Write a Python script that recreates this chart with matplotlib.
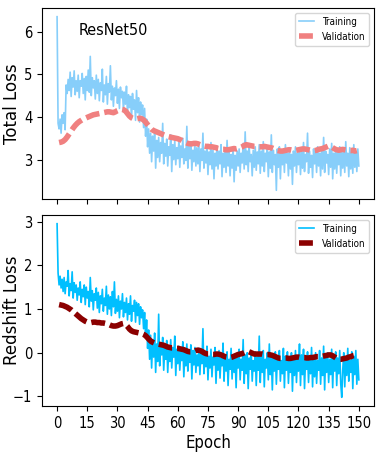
import numpy as np
import matplotlib
matplotlib.use('Agg')
import matplotlib.pyplot as plt

plt.rcParams.update({'font.size': 10})
plt.rcParams['font.family'] = ['DejaVu Sans']
plt.rcParams['font.stretch'] = 'condensed'

# training losses, two samples per epoch (epoch 0 .. 150)
total_train = [
    6.35, 3.85, 3.72, 3.95, 3.62, 4.05, 3.85, 4.10, 3.70, 4.75, 4.55, 4.88, 4.62, 5.05, 4.48, 4.92, 4.70, 5.08, 4.52, 4.85,
    4.60, 4.98, 4.45, 4.85, 4.72, 5.02, 4.55, 4.90, 4.40, 4.95, 4.62, 5.10, 4.58, 5.42, 4.50, 4.92, 4.68, 4.85, 4.42, 4.98,
    4.55, 4.88, 4.38, 4.80, 4.62, 5.12, 4.35, 4.75, 4.52, 4.95, 4.30, 4.78, 4.58, 5.20, 4.40, 4.72, 4.25, 4.68, 4.50, 4.85,
    4.32, 4.65, 4.20, 4.70, 4.45, 4.60, 4.15, 4.58, 4.30, 4.72, 4.05, 4.52, 4.22, 4.48, 3.95, 4.55, 4.18, 4.40, 3.92, 4.62,
    4.10, 4.45, 3.88, 4.35, 4.05, 4.28, 3.75, 4.20, 3.55, 3.95, 3.30, 3.72, 3.15, 3.62, 2.95, 3.55, 3.20, 3.68, 2.80, 3.45,
    3.05, 3.52, 2.95, 3.40, 3.15, 3.85, 2.90, 3.38, 3.08, 3.48, 2.85, 3.30, 3.10, 3.58, 2.72, 3.35, 3.00, 3.45, 2.88, 3.28,
    3.02, 3.40, 2.82, 3.32, 3.05, 3.50, 2.90, 3.25, 2.98, 3.78, 2.80, 3.30, 3.02, 3.42, 2.75, 3.22, 2.95, 3.35, 2.85, 3.28,
    2.90, 3.35, 2.72, 3.25, 2.98, 3.62, 2.80, 3.20, 2.92, 3.30, 2.65, 3.18, 2.88, 3.40, 2.78, 3.22, 2.55, 3.15, 2.85, 3.32,
    2.78, 3.20, 2.90, 3.35, 2.60, 3.15, 2.82, 3.25, 2.70, 3.45, 2.85, 3.18, 2.62, 3.12, 2.80, 3.28, 2.48, 3.10, 2.75, 3.20,
    2.85, 3.25, 2.70, 3.15, 2.92, 3.38, 2.78, 3.65, 2.88, 3.20, 2.72, 3.28, 2.95, 3.12, 2.62, 3.22, 2.82, 3.30, 2.75, 3.18,
    2.90, 3.35, 2.68, 3.20, 2.85, 3.42, 2.72, 3.15, 2.95, 3.28, 2.60, 3.18, 2.80, 3.58, 2.70, 3.22, 2.88, 3.12, 2.28, 3.25,
    2.82, 3.30, 2.55, 3.18, 2.88, 3.22, 2.70, 3.35, 2.92, 3.15, 2.62, 3.28, 2.78, 3.12, 2.42, 3.20, 2.85, 3.30, 2.70, 3.15,
    2.88, 3.25, 2.65, 3.18, 2.80, 3.40, 2.72, 3.12, 2.95, 3.62, 2.68, 3.20, 2.82, 3.10, 2.58, 3.25, 2.90, 3.18, 2.70, 3.30,
    2.85, 3.15, 2.62, 3.28, 2.78, 3.52, 2.70, 3.20, 2.92, 3.12, 2.65, 3.25, 2.82, 3.38, 2.55, 3.15, 2.78, 3.28, 2.68, 3.20,
    2.88, 3.30, 2.62, 3.18, 2.80, 3.25, 2.70, 3.42, 2.85, 3.15, 2.60, 3.28, 2.78, 3.20, 2.68, 3.35, 2.82, 3.18, 2.72, 3.25,
    2.85,
]

redshift_train = [
    2.95, 1.82, 1.55, 1.75, 1.48, 1.68, 1.40, 1.72, 1.35, 1.62, 1.52, 1.88, 1.30, 1.58, 1.42, 1.85, 1.25, 1.60, 1.38, 1.55,
    1.20, 1.48, 1.32, 1.62, 1.15, 1.45, 1.28, 1.55, 1.10, 1.50, 1.25, 1.40, 1.05, 1.72, 1.18, 1.42, 0.98, 1.35, 1.20, 1.48,
    1.02, 1.38, 0.92, 1.30, 1.12, 1.45, 0.95, 1.25, 1.08, 1.52, 0.88, 1.32, 1.00, 1.28, 0.85, 1.40, 1.05, 1.62, 0.90, 1.22,
    0.95, 1.30, 0.80, 1.18, 1.00, 1.35, 0.82, 1.15, 0.92, 1.25, 0.75, 1.12, 0.88, 1.30, 0.72, 1.08, 0.95, 1.20, 0.70, 1.15,
    0.85, 1.12, 0.65, 1.05, 0.80, 0.98, 0.55, 0.92, 0.35, 0.75, 0.10, 0.52, -0.15, 0.40, -0.35, 0.30, -0.10, 0.45, -0.45, 0.20,
    -0.20, 0.88, -0.30, 0.15, -0.05, 0.35, -0.40, 0.10, -0.15, 0.28, -0.45, 0.05, -0.20, 0.30, -0.35, 0.12, -0.10, 0.38, -0.52, 0.08,
    -0.25, 0.15, -0.40, 0.05, -0.18, 0.25, -0.55, 0.00, -0.30, 0.20, -0.42, -0.02, -0.22, 0.18, -0.60, 0.05, -0.28, 0.12, -0.45, -0.05,
    -0.30, 0.10, -0.50, 0.02, -0.25, 0.55, -0.48, -0.05, -0.32, 0.15, -0.62, -0.08, -0.35, 0.08, -0.55, -0.10, -0.28, 0.12, -0.70, -0.05,
    -0.40, 0.05, -0.58, -0.12, -0.30, 0.22, -0.65, -0.08, -0.42, 0.02, -0.75, -0.15, -0.38, 0.10, -0.60, -0.05, -0.45, -0.10, -0.80, -0.02,
    -0.35, 0.08, -0.62, -0.15, -0.40, 0.30, -0.70, -0.05, -0.48, 0.00, -0.82, -0.12, -0.38, 0.05, -0.65, -0.18, -0.42, 0.02, -0.75, -0.10,
    -0.40, 0.38, -0.68, -0.08, -0.45, 0.05, -0.78, -0.15, -0.35, 0.00, -0.62, 0.20, -0.50, -0.10, -0.85, -0.05, -0.42, 0.02, -0.72, -0.12,
    -0.38, 0.05, -0.65, -0.18, -0.48, 0.10, -0.80, -0.08, -0.40, 0.02, -0.70, -0.15, -0.45, 0.00, -0.88, -0.10, -0.52, 0.05, -0.68, -0.12,
    -0.42, 0.20, -0.75, -0.05, -0.50, 0.08, -0.82, -0.15, -0.38, 0.02, -0.68, -0.10, -0.48, 0.12, -0.78, -0.08, -0.55, 0.00, -0.70, -0.18,
    -0.40, 0.05, -0.72, -0.12, -0.52, 0.15, -0.85, -0.05, -0.45, 0.00, -0.68, -0.15, -0.50, 0.08, -0.80, -0.10, -0.42, 0.02, -0.75, -0.12,
    -0.48, 0.05, -0.70, -1.02, -0.40, 0.00, -0.78, -0.10, -0.52, 0.10, -0.65, -0.18, -0.45, 0.02, -0.82, -0.08, -0.50, 0.05, -0.72, -0.15,
    -0.62,
]

# validation losses, one per epoch (epoch 1 .. 149)
total_val = [
    3.40, 3.41, 3.43, 3.47, 3.53, 3.60, 3.67, 3.74, 3.80, 3.85,
    3.89, 3.92, 3.95, 3.97, 3.99, 4.01, 4.03, 4.05, 4.06, 4.07,
    4.08, 4.09, 4.10, 4.11, 4.12, 4.12, 4.11, 4.10, 4.12, 4.15,
    4.17, 4.18, 4.17, 4.14, 4.08, 4.02, 3.98, 3.96, 3.95, 3.96,
    3.97, 3.96, 3.93, 3.88, 3.82, 3.76, 3.71, 3.68, 3.66, 3.64,
    3.62, 3.60, 3.58, 3.56, 3.54, 3.53, 3.52, 3.51, 3.50, 3.49,
    3.47, 3.45, 3.42, 3.40, 3.38, 3.37, 3.37, 3.38, 3.38, 3.37,
    3.35, 3.33, 3.32, 3.31, 3.31, 3.30, 3.30, 3.29, 3.28, 3.26,
    3.25, 3.24, 3.24, 3.23, 3.23, 3.24, 3.25, 3.26, 3.25, 3.26,
    3.28, 3.30, 3.33, 3.35, 3.34, 3.33, 3.32, 3.31, 3.31, 3.30,
    3.30, 3.30, 3.31, 3.30, 3.29, 3.28, 3.27, 3.25, 3.22, 3.21,
    3.20, 3.20, 3.21, 3.22, 3.23, 3.23, 3.22, 3.21, 3.22, 3.23,
    3.24, 3.25, 3.25, 3.24, 3.23, 3.22, 3.21, 3.21, 3.22, 3.24,
    3.25, 3.26, 3.28, 3.30, 3.32, 3.31, 3.28, 3.25, 3.23, 3.22,
    3.23, 3.24, 3.23, 3.22, 3.21, 3.21, 3.22, 3.20, 3.21,
]

redshift_val = [
    1.10, 1.09, 1.08, 1.06, 1.04, 1.01, 0.98, 0.94, 0.90, 0.86,
    0.82, 0.78, 0.75, 0.72, 0.70, 0.69, 0.69, 0.70, 0.70, 0.69,
    0.69, 0.68, 0.68, 0.67, 0.66, 0.64, 0.62, 0.61, 0.61, 0.62,
    0.64, 0.66, 0.67, 0.65, 0.60, 0.54, 0.50, 0.48, 0.47, 0.46,
    0.45, 0.44, 0.42, 0.39, 0.34, 0.29, 0.25, 0.23, 0.21, 0.20,
    0.19, 0.18, 0.17, 0.15, 0.13, 0.12, 0.11, 0.11, 0.10, 0.10,
    0.09, 0.08, 0.07, 0.05, 0.03, 0.02, 0.02, 0.03, 0.05, 0.06,
    0.05, 0.03, 0.00, -0.02, -0.03, -0.03, -0.04, -0.04, -0.03, -0.03,
    -0.04, -0.06, -0.08, -0.10, -0.11, -0.11, -0.10, -0.08, -0.06, -0.04,
    -0.03, -0.02, 0.00, 0.02, 0.03, 0.01, -0.01, -0.03, -0.03, -0.03,
    -0.03, -0.03, -0.04, -0.04, -0.04, -0.05, -0.06, -0.08, -0.10, -0.12,
    -0.13, -0.13, -0.12, -0.12, -0.13, -0.13, -0.12, -0.11, -0.10, -0.10,
    -0.11, -0.11, -0.11, -0.12, -0.12, -0.11, -0.11, -0.10, -0.09, -0.09,
    -0.08, -0.08, -0.07, -0.06, -0.05, -0.05, -0.07, -0.10, -0.13, -0.15,
    -0.15, -0.14, -0.13, -0.12, -0.10, -0.09, -0.07, -0.06, -0.05,
]

x_train = np.arange(len(total_train)) * 0.5
x_val = np.arange(1, len(total_val) + 1)
xticks = list(range(0, 151, 15))

fig = plt.figure(figsize=(3.8, 4.58), dpi=100)
ax1 = fig.add_axes([0.1105, 0.5655, 0.8735, 0.417])
ax2 = fig.add_axes([0.1105, 0.1135, 0.8735, 0.417], sharex=ax1)

ax1.plot(x_train, total_train, color='lightskyblue', lw=1.2, label='Training')
ax1.plot(x_val, total_val, color='lightcoral', lw=4, dashes=(2.5, 0.9), label='Validation')
ax1.text(0.11, 0.86, 'ResNet50', transform=ax1.transAxes, fontsize=11.5)
ax1.set_ylabel('Total Loss', fontsize=12, fontstretch='normal')
ax1.yaxis.set_label_coords(-0.062, 0.5)
ax1.set_yticks([3, 4, 5, 6])
ax1.tick_params(labelbottom=False, labelsize=10.5)
ax1.legend(loc='upper right', fontsize=7, handlelength=1.5)

ax2.plot(x_train, redshift_train, color='deepskyblue', lw=1.2, label='Training')
ax2.plot(x_val, redshift_val, color='darkred', lw=4, dashes=(2.5, 0.9), label='Validation')
ax2.set_ylabel('Redshift Loss', fontsize=12, fontstretch='normal')
ax2.yaxis.set_label_coords(-0.062, 0.5)
ax2.set_yticks([-1, 0, 1, 2, 3])
ax2.set_xticks(xticks)
ax2.tick_params(labelsize=10.5)
ax2.set_xlabel('Epoch', fontsize=12, labelpad=2)
ax2.legend(loc='upper right', fontsize=7, handlelength=1.5)

fig.savefig('out.png', dpi=100)
